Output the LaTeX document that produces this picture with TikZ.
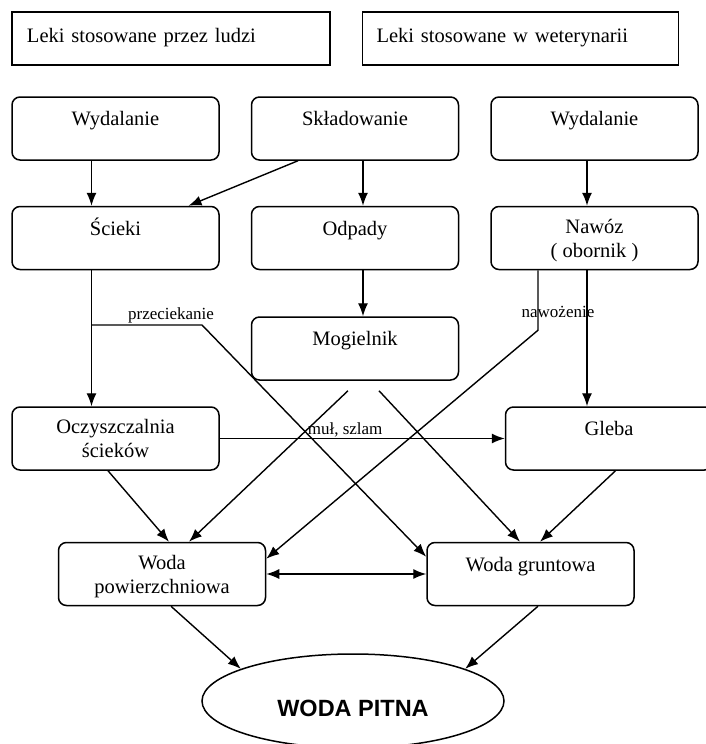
\documentclass[tikz,border=0pt]{standalone}
\usepackage{fontspec}
\setmainfont{Liberation Serif}
\newfontfamily\headfont{Liberation Sans}
\usetikzlibrary{arrows.meta,positioning,shapes.geometric}

\begin{document}
\begin{tikzpicture}[x=1pt,y=-1pt,node distance=45pt and 31pt]
  \tikzstyle{srcbox}=[rectangle,draw,line width=1.5pt,text width=288pt,inner xsep=15pt,minimum height=53pt,align=left,text height=14pt,text depth=7pt,font=\fontsize{20.5}{24}\selectfont]
  \tikzstyle{stepbox}=[rectangle,draw,line width=1.5pt,rounded corners=8pt,minimum width=207pt,minimum height=63pt,align=center,font=\fontsize{20.5}{24}\selectfont]
  \tikzstyle{oneline}=[text height=14pt,text depth=20pt]
  \tikzstyle{twoline}=[text depth=0pt]
  \tikzstyle{flow}=[-{Latex[length=13pt,width=10pt]},line width=1.4pt]
  \tikzstyle{lbl}=[font=\fontsize{17}{20}\selectfont,inner sep=1pt]

  \useasboundingbox (0,0) rectangle (705,744);

  \node[srcbox] (ludzi) at (171,38.5) {Leki stosowane przez ludzi};
  \node[srcbox,right=31pt of ludzi,inner xsep=14pt] (wet) {Leki stosowane w weterynarii};

  \node[stepbox,oneline] (wyd1) at (115.5,128.5) {Wydalanie};
  \node[stepbox,oneline,right=of wyd1] (sklad) {Składowanie};
  \node[stepbox,oneline,right=of sklad] (wyd2) {Wydalanie};
  \node[stepbox,oneline,below=of wyd1] (scieki) {Ścieki};
  \node[stepbox,oneline,below=of sklad] (odpady) {Odpady};
  \node[stepbox,twoline,below=of wyd2] (nawoz) {Nawóz\\( obornik )};
  \node[stepbox,oneline,below=46pt of odpady] (mogiel) {Mogielnik};
  \node[stepbox,below=136pt of scieki] (oczysz) {Oczyszczalnia\\ścieków};
  \node[stepbox,oneline,right=285pt of oczysz] (gleba) {Gleba};
  \node[stepbox,twoline] (wodapow) at (162,574) {Woda\\powierzchniowa};
  \node[stepbox,oneline,right=160pt of wodapow] (wodagr) {Woda gruntowa};
  \node[ellipse,draw,line width=1.5pt,minimum width=302pt,minimum height=94pt,text height=31pt,text depth=0pt,font=\headfont\bfseries\fontsize{23.5}{28}\selectfont] (pitna) at (353,701) {WODA PITNA};

  \coordinate (leak) at (91.5,325);
  \coordinate (leakbend) at (202,325);

  \draw[flow] ([xshift=-24pt]wyd1.south) -- ([xshift=-24pt]scieki.north);
  \draw[flow] ([xshift=-57pt]sklad.south) -- ([xshift=73pt]scieki.north);
  \draw[flow] ([xshift=8pt]sklad.south) -- ([xshift=8pt]odpady.north);
  \draw[flow] ([xshift=-7.5pt]wyd2.south) -- ([xshift=-7.5pt]nawoz.north);
  \draw[flow] ([xshift=8pt]odpady.south) -- ([xshift=8pt]mogiel.north);
  \draw[flow] ([xshift=-24pt]scieki.south) -- ([xshift=-24pt]oczysz.north);
  \draw[flow] (leak) -- node[lbl,above,pos=0.72] {przeciekanie} (leakbend) -- ([yshift=-15pt]wodagr.north west);
  \draw[flow] ([xshift=-56.5pt]nawoz.south) -- node[lbl,pos=0.7,xshift=20pt] {nawożenie} ++(0,60) -- ([yshift=-17pt]wodapow.north east);
  \draw[flow] ([xshift=-7.5pt]nawoz.south) -- ([xshift=-7.5pt]nawoz.south |- gleba.north);
  \draw[flow] (oczysz.east) -- node[lbl,above,pos=0.44] {muł, szlam} (gleba.west);
  \draw[flow] ([shift={(-7pt,-10pt)}]mogiel.south) -- ([xshift=27pt]wodapow.north);
  \draw[flow] ([shift={(24pt,-10pt)}]mogiel.south) -- ([xshift=-10.5pt]wodagr.north);
  \draw[flow] ([xshift=-7.5pt]oczysz.south) -- ([xshift=7pt]wodapow.north);
  \draw[flow] ([xshift=6.5pt]gleba.south) -- ([xshift=9.5pt]wodagr.north);
  \draw[{Latex[length=13pt,width=10pt]}-{Latex[length=13pt,width=10pt]},line width=1.4pt] (wodapow.east) -- (wodagr.west);
  \draw[flow] ([xshift=9pt]wodapow.south) -- (pitna.164);
  \draw[flow] ([xshift=7.5pt]wodagr.south) -- (pitna.16);
\end{tikzpicture}
\end{document}
